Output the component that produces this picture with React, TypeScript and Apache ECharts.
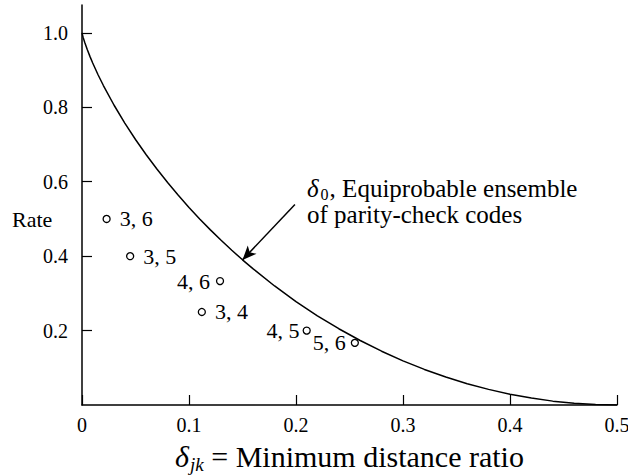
import React, { useEffect, useRef } from "react";
import * as echarts from "echarts";

// Curve: delta_0 for the equiprobable ensemble of parity-check codes
const curveDelta = [
  0, 0.001, 0.0025, 0.005, 0.0075, 0.01, 0.015, 0.02, 0.03, 0.04, 0.05, 0.06, 0.07, 0.08,
  0.09, 0.1, 0.11, 0.12, 0.13, 0.14, 0.15, 0.16, 0.18, 0.2, 0.22, 0.24, 0.26, 0.28, 0.3,
  0.32, 0.34, 0.36, 0.38, 0.4, 0.42, 0.44, 0.46, 0.48, 0.5,
];
const curveRate = [
  1.0, 0.9886, 0.9748, 0.9546, 0.9363, 0.9192, 0.8876, 0.8586, 0.8056, 0.7577, 0.7136,
  0.6726, 0.6341, 0.5978, 0.5635, 0.531, 0.5001, 0.4706, 0.4426, 0.4158, 0.3902, 0.3657,
  0.3199, 0.2781, 0.2398, 0.205, 0.1733, 0.1446, 0.1187, 0.0956, 0.0752, 0.0573, 0.042,
  0.029, 0.0186, 0.0104, 0.0046, 0.0012, 0.0,
];

// (j, k) codes
const codeNames = ["3, 6", "3, 5", "4, 6", "3, 4", "4, 5", "5, 6"];
const codeDelta = [0.023, 0.045, 0.129, 0.112, 0.21, 0.255];
const codeRate = [0.5, 0.4, 0.333, 0.25, 0.2, 0.167];

const xTicks = [0, 0.1, 0.2, 0.3, 0.4, 0.5];
const yTicks = [0.2, 0.4, 0.6, 0.8, 1.0];

// arrow from annotation to curve
const arrowFrom = [0.199, 0.539];
const arrowTo = [0.15, 0.39];

const FONT = "'Liberation Serif', serif";
// label layout per code point
const labelSide = ["right", "right", "left", "right", "left", "left"];
const labelGap = [9, 9, 6, 9, 3, 5];

export default function App() {
  const ref = useRef<HTMLDivElement>(null);
  useEffect(() => {
    if (!ref.current) return;
    const chart = echarts.init(ref.current, null, { renderer: "svg" });
    chart.setOption({
      animation: false,
      backgroundColor: "#ffffff",
      textStyle: { fontFamily: FONT, color: "#000" },
      grid: { left: 82, right: 11, top: 5, bottom: 70, containLabel: false, outerBoundsMode: "none" },
      xAxis: {
        type: "value",
        min: 0,
        max: 0.5,
        interval: 0.1,
        name: "{d|δ}{s|jk}{t| = Minimum distance ratio}",
        nameLocation: "middle",
        nameGap: 30,
        nameTextStyle: {
          rich: {
            d: { fontFamily: FONT, fontStyle: "italic", fontSize: 30, lineHeight: 34, color: "#000" },
            s: { fontFamily: FONT, fontStyle: "italic", fontSize: 19, lineHeight: 19, color: "#000", padding: [15, 0, 0, 1] },
            t: { fontFamily: FONT, fontSize: 30, lineHeight: 34, color: "#000" },
          },
        },
        axisLine: { lineStyle: { color: "#000", width: 1.5 } },
        axisTick: { inside: true, length: 10, customValues: xTicks, lineStyle: { color: "#000", width: 1.2 } },
        axisLabel: {
          customValues: xTicks,
          formatter: (v: number) => (v === 0 ? "0" : v.toFixed(1)),
          fontFamily: FONT,
          fontSize: 20,
          color: "#000",
          margin: 10,
        },
        splitLine: { show: false },
      },
      yAxis: {
        type: "value",
        min: 0,
        max: 1.075,
        interval: 0.2,
        axisLine: { lineStyle: { color: "#000", width: 1.5 } },
        axisTick: { inside: true, length: 10, customValues: yTicks, lineStyle: { color: "#000", width: 1.2 } },
        axisLabel: {
          customValues: yTicks,
          formatter: (v: number) => v.toFixed(1),
          fontFamily: FONT,
          fontSize: 20,
          color: "#000",
          margin: 14,
        },
        splitLine: { show: false },
      },
      graphic: [
        {
          type: "text",
          left: 12,
          top: 208,
          style: { text: "Rate", fontFamily: FONT, fontSize: 22, fill: "#000" },
        },
        {
          type: "text",
          left: 307,
          top: 174,
          style: {
            text: "{d|δ}{s|0}{t|, Equiprobable ensemble}\n{t|of parity-check codes}",
            fill: "#000",
            rich: {
              d: { fontFamily: FONT, fontStyle: "italic", fontSize: 25, lineHeight: 26, fill: "#000" },
              s: { fontFamily: FONT, fontSize: 16, lineHeight: 14, fill: "#000", padding: [12, 1, 0, 2] },
              t: { fontFamily: FONT, fontSize: 25, lineHeight: 26, fill: "#000" },
            },
          },
        },
      ],
      series: [
        {
          type: "line",
          data: curveDelta.map((d, i) => [d, curveRate[i]]),
          showSymbol: false,
          smooth: false,
          lineStyle: { color: "#000", width: 1.5 },
          silent: true,
          markLine: {
            silent: true,
            symbol: ["none", "arrow"],
            symbolSize: [9, 14],
            label: { show: false },
            lineStyle: { color: "#000", width: 1.5, type: "solid" },
            data: [[{ coord: arrowFrom }, { coord: arrowTo }]],
          },
        },
        {
          type: "scatter",
          symbol: "circle",
          symbolSize: 7,
          itemStyle: { color: "#fff", borderColor: "#000", borderWidth: 1.3, opacity: 1 },
          data: codeNames.map((n, i) => ({
            name: n,
            value: [codeDelta[i], codeRate[i]],
            label: { position: labelSide[i], distance: labelGap[i] },
          })),
          label: {
            show: true,
            formatter: (p: any) => p.name,
            fontFamily: FONT,
            fontSize: 22,
            color: "#000",
          },
        },
      ],
    });
    return () => chart.dispose();
  }, []);
  return <div ref={ref} style={{ position: "fixed", left: 0, top: 0, width: 628, height: 475 }} />;
}
